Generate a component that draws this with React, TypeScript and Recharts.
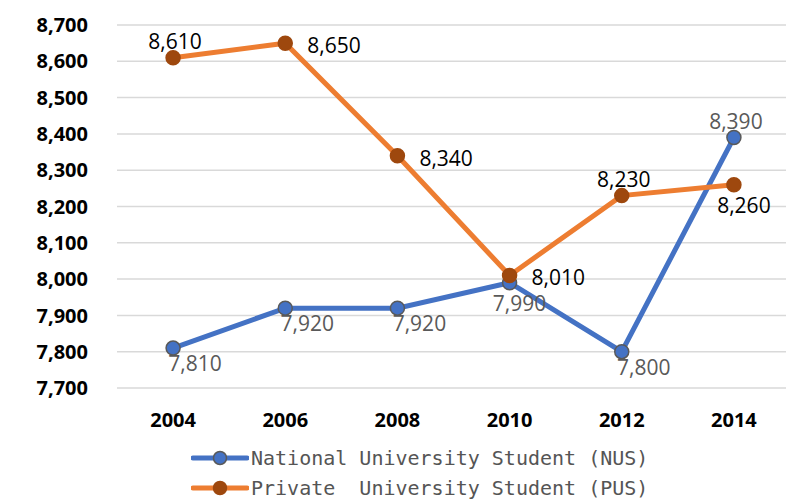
import { LineChart, Line, XAxis, YAxis, CartesianGrid, Legend, LabelList } from 'recharts';

const YEARS = ['2004', '2006', '2008', '2010', '2012', '2014'];
const NUS_VALUES = [7810, 7920, 7920, 7990, 7800, 8390];
const PUS_VALUES = [8610, 8650, 8340, 8010, 8230, 8260];
const Y_TICKS = [7700, 7800, 7900, 8000, 8100, 8200, 8300, 8400, 8500, 8600, 8700];

const NUS_NAME = 'National University Student (NUS)';
const PUS_NAME = 'Private  University Student (PUS)';

// where each data label sits relative to its point
const NUS_LABEL_PLACE = ['belowRight', 'belowRight', 'belowRight', 'below', 'belowRight', 'above'];
const PUS_LABEL_PLACE = ['above', 'right', 'right', 'right', 'above', 'below'];

const NUS_LINE = '#4472C4';
const PUS_LINE = '#ED7D31';
const PUS_DOT = '#9E480E';
const DOT_EDGE = '#595959';
const GRID = '#D9D9D9';
const FONT = '"Open Sans", "Liberation Sans", sans-serif';
const MONO = '"DejaVu Sans Mono", "Liberation Mono", monospace';

const data = YEARS.map((year, i) => ({ year, nus: NUS_VALUES[i], pus: PUS_VALUES[i] }));

const PLACE_OFFSET: Record<string, { dx: number; dy: number; anchor: 'start' | 'middle' }> = {
  above: { dx: 2, dy: -17, anchor: 'middle' },
  below: { dx: 10, dy: 20, anchor: 'middle' },
  belowRight: { dx: 22, dy: 15, anchor: 'middle' },
  right: { dx: 22, dy: 2, anchor: 'start' },
};

function makeLabel(places: string[], color: string) {
  return (props: any) => {
    const { x, y, value, index } = props;
    if (x == null || y == null) return null;
    const off = PLACE_OFFSET[places[index]] ?? PLACE_OFFSET.above;
    return (
      <text
        x={x + off.dx}
        y={y + off.dy}
        textAnchor={off.anchor}
        dominantBaseline="central"
        fill={color}
        fontSize={21}
        fontFamily={FONT}
      >
        {Number(value).toLocaleString('en-US')}
      </text>
    );
  };
}

function LegendIcon({ line, fill, edge }: { line: string; fill: string; edge: string }) {
  return (
    <svg width={58} height={16} style={{ marginRight: 2 }}>
      <line x1={2} y1={8} x2={56} y2={8} stroke={line} strokeWidth={5} strokeLinecap="round" />
      <circle cx={29} cy={8} r={6.5} fill={fill} stroke={edge} strokeWidth={1.5} />
    </svg>
  );
}

function ChartLegend() {
  const rows = [
    { name: NUS_NAME, line: NUS_LINE, fill: NUS_LINE, edge: DOT_EDGE, h: 32 },
    { name: PUS_NAME, line: PUS_LINE, fill: PUS_DOT, edge: PUS_DOT, h: 28 },
  ];
  return (
    <div style={{ height: 68, paddingTop: 8, boxSizing: 'border-box' }}>
      {rows.map((r) => (
        <div key={r.name} style={{ display: 'flex', alignItems: 'center', height: r.h }}>
          <LegendIcon line={r.line} fill={r.fill} edge={r.edge} />
          <span style={{ fontFamily: MONO, fontSize: 20, lineHeight: '22px', color: '#555', whiteSpace: 'pre' }}>
            {r.name}
          </span>
        </div>
      ))}
    </div>
  );
}

export default function App() {
  return (
    <div
      style={{
        position: 'absolute',
        top: 0,
        left: 0,
        width: 786,
        height: 502,
        overflow: 'hidden',
        background: '#fff',
      }}
    >
      <LineChart width={790} height={502} data={data} margin={{ top: 25, right: 0, bottom: 0, left: 0 }}>
        <CartesianGrid vertical={false} stroke={GRID} strokeWidth={1.5} />
        <XAxis
          dataKey="year"
          scale="band"
          axisLine={false}
          tickLine={false}
          height={46}
          tickMargin={19}
          tick={{ fontSize: 20, fontWeight: 700, fill: '#000', fontFamily: FONT }}
        />
        <YAxis
          domain={[7700, 8700]}
          ticks={Y_TICKS}
          width={117}
          axisLine={false}
          tickLine={false}
          tickMargin={23}
          tickFormatter={(v: number) => v.toLocaleString('en-US')}
          tick={{ fontSize: 20, fontWeight: 700, fill: '#000', fontFamily: FONT }}
        />
        <Legend
          verticalAlign="bottom"
          content={() => <ChartLegend />}
          wrapperStyle={{ left: 191, width: 560 }}
        />
        <Line
          dataKey="nus"
          name={NUS_NAME}
          stroke={NUS_LINE}
          strokeWidth={5}
          dot={{ r: 7, fill: NUS_LINE, stroke: DOT_EDGE, strokeWidth: 1.5 }}
          activeDot={false}
          isAnimationActive={false}
        >
          <LabelList dataKey="nus" content={makeLabel(NUS_LABEL_PLACE, '#595959')} />
        </Line>
        <Line
          dataKey="pus"
          name={PUS_NAME}
          stroke={PUS_LINE}
          strokeWidth={5}
          dot={{ r: 7, fill: PUS_DOT, stroke: PUS_DOT, strokeWidth: 1.5 }}
          activeDot={false}
          isAnimationActive={false}
        >
          <LabelList dataKey="pus" content={makeLabel(PUS_LABEL_PLACE, '#000')} />
        </Line>
      </LineChart>
    </div>
  );
}
